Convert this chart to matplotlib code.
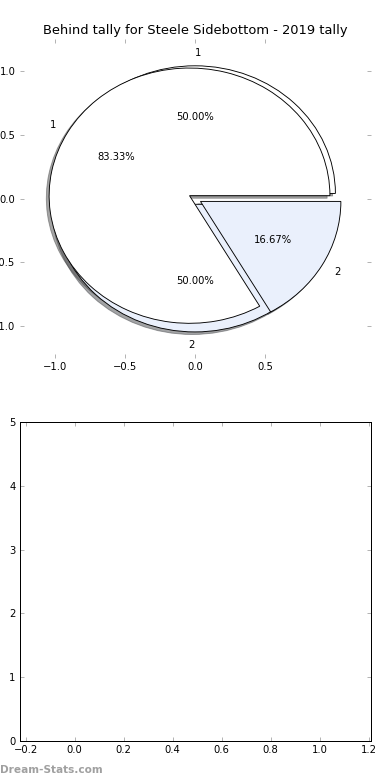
import matplotlib
matplotlib.use("Agg")
import matplotlib.pyplot as plt

# ---- data ----
title_text = "Behind tally for Steele Sidebottom - 2019 tally"
labels_a = ["1", "2"]
values_a = [1, 1]
labels_b = ["1", "2"]
values_b = [5, 1]
wedge_colors = ["#ffffff", "#eaf0fc"]
explode_a = [0.04, 0.045]
explode_b = [0.045, 0.045]
top_xticks = [-1.0, -0.5, 0.0, 0.5]
top_yticks = [-1.0, -0.5, 0.0, 0.5, 1.0]
bottom_xticks = [-0.2, 0.0, 0.2, 0.4, 0.6, 0.8, 1.0, 1.2]
bottom_yticks = [0, 1, 2, 3, 4, 5]
watermark = "Dream-Stats.com"

DPI = 72
plt.rcParams.update({
    "font.family": ["DejaVu Sans"],
    "font.size": 10,
    "xtick.direction": "in",
    "ytick.direction": "in",
    "xtick.top": True,
    "ytick.right": True,
    "xtick.color": "#b4b4b4",
    "ytick.color": "#b4b4b4",
    "xtick.labelcolor": "black",
    "ytick.labelcolor": "black",
    "xtick.major.size": 4,
    "ytick.major.size": 4,
    "xtick.major.width": 1,
    "ytick.major.width": 1,
    "xtick.major.pad": 4,
    "ytick.major.pad": 4,
    "xtick.labelsize": 10,
    "ytick.labelsize": 10,
    "axes.linewidth": 1.0,
})

fig, (ax1, ax2) = plt.subplots(2, 1, figsize=(390 / DPI, 780 / DPI), dpi=DPI)
fig.subplots_adjust(left=0.05, right=0.95, top=0.95, bottom=0.05, hspace=0.2)

wp = {"edgecolor": "black", "linewidth": 0.9}
_, texts_a, _ = ax1.pie(values_a, labels=labels_a, colors=wedge_colors,
                        explode=explode_a, autopct="%.2f%%", shadow=True,
                        startangle=0, wedgeprops=wp, textprops={"fontsize": 10})
_, texts_b, _ = ax1.pie(values_b, labels=labels_b, colors=wedge_colors,
                        explode=explode_b, autopct="%.2f%%", shadow=True,
                        startangle=0, wedgeprops=wp, textprops={"fontsize": 10})
texts_a[0].set_horizontalalignment("left")
texts_a[1].set_horizontalalignment("right")
ax1.set_aspect("auto")
ax1.set_frame_on(False)
ax1.set_xlim(-1.25, 1.25)
ax1.set_ylim(-1.25, 1.25)
ax1.set_xticks(top_xticks)
ax1.set_yticks(top_yticks)
ax1.set_title(title_text, fontsize=13, pad=5)

ax2.set_xlim(-0.225, 1.207)
ax2.set_ylim(0, 5)
ax2.set_xticks(bottom_xticks)
ax2.set_yticks(bottom_yticks)

fig.text(0.0, 1 - 770 / 780, watermark, ha="left", va="center",
         fontsize=10.5, fontweight="bold", color="#a0a0a0")

fig.savefig("out.png", dpi=DPI)
